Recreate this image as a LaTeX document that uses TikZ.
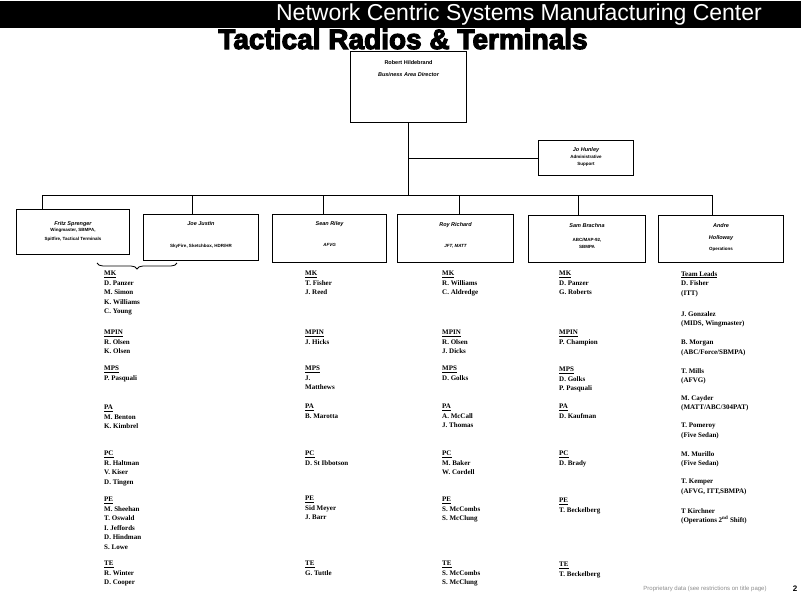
\documentclass[tikz,border=0pt]{standalone}
\usepackage{fontspec}
\setmainfont{Liberation Serif}
\newfontfamily\arial{Liberation Sans}
\newfontfamily\heavy[BoldFeatures={FakeBold=4}]{Liberation Sans}
\usetikzlibrary{positioning,decorations.pathreplacing}
\newcommand\dtl{\fontsize{4.5}{5.5}\selectfont}
\newcommand\hd[1]{\underline{#1}}

\begin{document}
\begin{tikzpicture}[x=1pt,y=-1pt,
  box/.style={draw,line width=1pt,anchor=north west,inner sep=0pt},
  boxtxt/.style={align=center,inner sep=0pt,font=\arial\bfseries\itshape\fontsize{5.5}{6}\selectfont},
  lst/.style={anchor=north west,align=left,inner sep=0pt,font=\bfseries\fontsize{7}{9.5}\selectfont},
  wire/.style={line width=1pt}]
  \useasboundingbox (0,0) rectangle (801,605);
  \fill[black] (0,1) rectangle (801,28);
  \node[text=white,font=\arial\fontsize{23}{23}\selectfont] (hdr) at (519,15) {Network Centric Systems Manufacturing Center};
  \node[font=\heavy\bfseries\fontsize{28}{28}\selectfont] (title) at (403,39) {Tactical Radios \& Terminals};

  % boxes
  \node[box,minimum width=116pt,minimum height=71pt] (rh)    at (350,51)  {};
  \node[box,minimum width=95pt, minimum height=35pt] (jo)    at (538,140) {};
  \node[box,minimum width=113pt,minimum height=45pt] (fritz) at (16,209)  {};
  \node[box,minimum width=115pt,minimum height=46pt] (joe)   at (143,214) {};
  \node[box,minimum width=114pt,minimum height=48pt] (sean)  at (272,214) {};
  \node[box,minimum width=116pt,minimum height=48pt] (roy)   at (397,214) {};
  \node[box,minimum width=117pt,minimum height=47pt] (sam)   at (528,215) {};
  \node[box,minimum width=125pt,minimum height=47pt] (andre) at (658,215) {};

  \node[boxtxt,below=9pt of rh.north] (rht) {\upshape Robert Hildebrand\\[6pt]Business Area Director};
  \node[boxtxt,below=7pt of jo.north] (jot) {Jo Hunley\\[1pt]{\dtl\upshape Administrative}\\[1pt]{\dtl\upshape Support}};
  \node[boxtxt,below=12pt of fritz.north] (fritzt) {Fritz Sprenger\\[0pt]{\dtl\upshape Wingmaster, SBMPA,}\\[3pt]{\dtl\upshape Spitfire, Tactical Terminals}};
  \node[boxtxt,below=7pt of joe.north] (joet) {Joe Justin\\[16pt]{\dtl\upshape SkyFire, Sketchbox, HDR/HR}};
  \node[boxtxt,below=7pt of sean.north] (seant) {Sean Riley\\[15pt]{\dtl AFVG}};
  \node[boxtxt,below=8pt of roy.north] (royt) {Roy Richard\\[15pt]{\dtl JFT, MATT}};
  \node[boxtxt,below=8pt of sam.north] (samt) {Sam Brachna\\[8pt]{\dtl\upshape ABC/MAP-92,}\\[1.5pt]{\dtl\upshape SBMPA}};
  \node[boxtxt,below=8pt of andre.north] (andret) {Andre\\[6pt]Holloway\\[5pt]{\dtl\upshape Operations}};

  % connectors
  \coordinate (d1) at (42,195);
  \coordinate (d2) at (192,195);
  \coordinate (d3) at (323,195);
  \coordinate (d4) at (459,195);
  \coordinate (d5) at (578,195);
  \coordinate (d6) at (712,195);
  \draw[wire] (rh.south) -- (rh.south |- d1);
  \draw[wire] (rh.south |- jo.west) -- (jo.west);
  \draw[wire] (d1) -- (d6);
  \draw[wire] (d1) -- (d1 |- fritz.north);
  \draw[wire] (d2) -- (d2 |- joe.north);
  \draw[wire] (d3) -- (d3 |- sean.north);
  \draw[wire] (d4) -- (d4 |- roy.north);
  \draw[wire] (d5) -- (d5 |- sam.north);
  \draw[wire] (d6) -- (d6 |- andre.north);
  \draw[line width=0.8pt,decorate,decoration={brace,mirror,amplitude=6pt}] (97,263) -- (177,263);

  % lists
  \begin{scope}[every node/.style={lst}]
    \node (c1mk)   at (104,271) {\hd{MK}\\D. Panzer\\M. Simon\\K. Williams\\C. Young};
    \node (c1mpin) at (104,330) {\hd{MPIN}\\R. Olsen\\K. Olsen};
    \node (c1mps)  at (104,366) {\hd{MPS}\\P. Pasquali};
    \node (c1pa)   at (104,405) {\hd{PA}\\M. Benton\\K. Kimbrel};
    \node (c1pc)   at (104,451) {\hd{PC}\\R. Haltman\\V. Kiser\\D. Tingen};
    \node (c1pe)   at (104,497) {\hd{PE}\\M. Sheehan\\T. Oswald\\I. Jeffords\\D. Hindman\\S. Lowe};
    \node (c1te)   at (104,561) {\hd{TE}\\R. Winter\\D. Cooper};

    \node (c2mk)   at (305,271) {\hd{MK}\\T. Fisher\\J. Reed};
    \node (c2mpin) at (305,330) {\hd{MPIN}\\J. Hicks};
    \node (c2mps)  at (305,366) {\hd{MPS}\\J.\\Matthews};
    \node (c2pa)   at (305,404) {\hd{PA}\\B. Marotta};
    \node (c2pc)   at (305,451) {\hd{PC}\\D. St Ibbotson};
    \node (c2pe)   at (305,496) {\hd{PE}\\Sid Meyer\\J. Barr};
    \node (c2te)   at (305,561) {\hd{TE}\\G. Tuttle};

    \node (c3mk)   at (442,271) {\hd{MK}\\R. Williams\\C. Aldredge};
    \node (c3mpin) at (442,330) {\hd{MPIN}\\R. Olsen\\J. Dicks};
    \node (c3mps)  at (442,366) {\hd{MPS}\\D. Golks};
    \node (c3pa)   at (442,404) {\hd{PA}\\A. McCall\\J. Thomas};
    \node (c3pc)   at (442,451) {\hd{PC}\\M. Baker\\W. Cordell};
    \node (c3pe)   at (442,497) {\hd{PE}\\S. McCombs\\S. McClung};
    \node (c3te)   at (442,561) {\hd{TE}\\S. McCombs\\S. McClung};

    \node (c4mk)   at (559,271) {\hd{MK}\\D. Panzer\\G. Roberts};
    \node (c4mpin) at (559,330) {\hd{MPIN}\\P. Champion};
    \node (c4mps)  at (559,367) {\hd{MPS}\\D. Golks\\P. Pasquali};
    \node (c4pa)   at (559,404) {\hd{PA}\\D. Kaufman};
    \node (c4pc)   at (559,451) {\hd{PC}\\D. Brady};
    \node (c4pe)   at (559,498) {\hd{PE}\\T. Beckelberg};
    \node (c4te)   at (559,562) {\hd{TE}\\T. Beckelberg};

    \node (c5tl)   at (681,271) {\hd{Team Leads}\\D. Fisher\\(ITT)};
    \node (c5jg)   at (681,311) {J. Gonzalez\\(MIDS, Wingmaster)};
    \node (c5bm)   at (681,340) {B. Morgan\\(ABC/Force/SBMPA)};
    \node (c5tm)   at (681,368) {T. Mills\\(AFVG)};
    \node (c5mc)   at (681,395) {M. Cayder\\(MATT/ABC/304PAT)};
    \node (c5tp)   at (681,423) {T. Pomeroy\\(Five Sedan)};
    \node (c5mm)   at (681,451) {M. Murillo\\(Five Sedan)};
    \node (c5tk)   at (681,479) {T. Kemper\\(AFVG, ITT,SBMPA)};
    \node (c5kir)  at (681,508) {T Kirchner\\(Operations 2\textsuperscript{nd} Shift)};
  \end{scope}

  \node[text=black!45,font=\arial\fontsize{6}{6}\selectfont] (foot) at (705,589) {Proprietary data (see restrictions on title page)};
  \node[font=\arial\bfseries\fontsize{8}{8}\selectfont] (pg) at (795,589) {2};
\end{tikzpicture}
\end{document}
